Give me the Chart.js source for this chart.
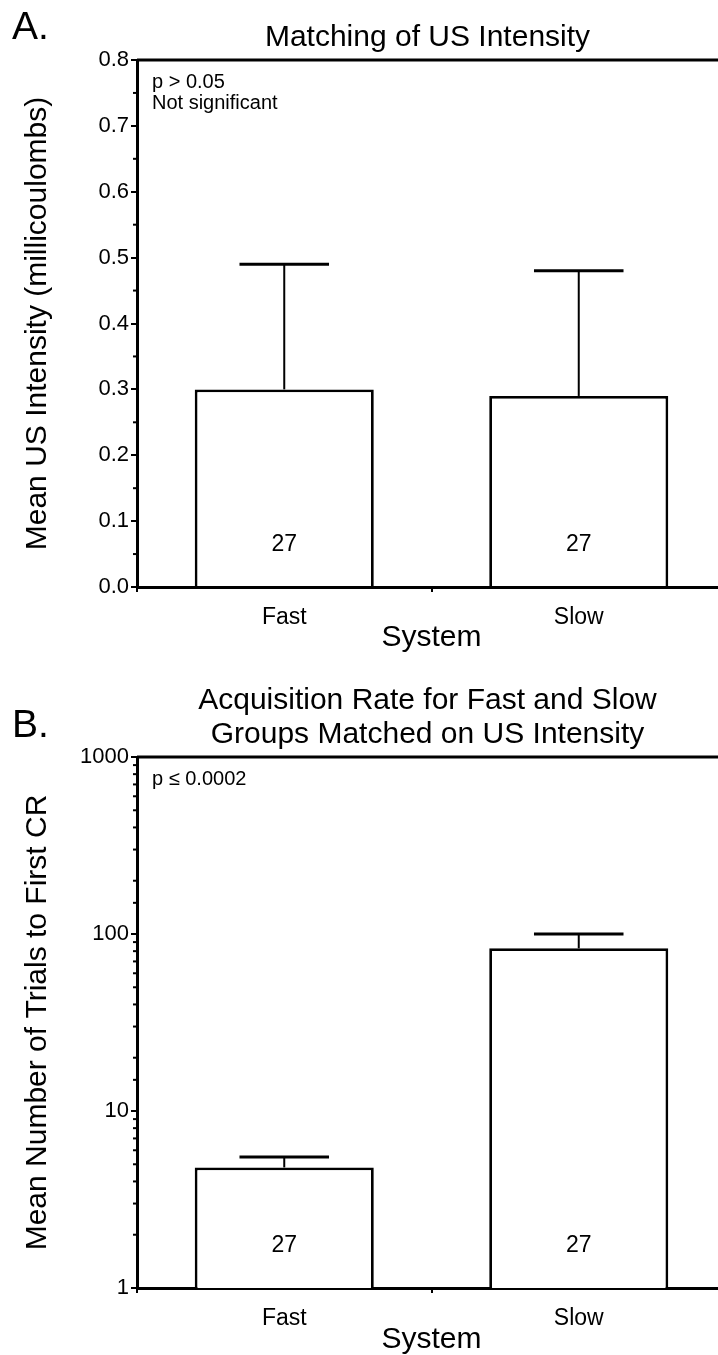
<!DOCTYPE html>
<html>
<head>
<meta charset="utf-8">
<script src="https://cdn.jsdelivr.net/npm/chart.js@4.4.1/dist/chart.umd.min.js"></script>
<style>
  html, body { margin: 0; padding: 0; background: #fff; overflow: hidden; }
  #page { position: relative; width: 718px; height: 1355px; overflow: hidden; background: #fff; }
  .panel { position: absolute; left: 0; }
</style>
</head>
<body>
<div id="page">
  <div class="panel" style="top:0"><canvas id="chartA" width="726" height="665"></canvas></div>
  <div class="panel" style="top:660px"><canvas id="chartB" width="726" height="695"></canvas></div>
</div>
<script>
// values
var groups = ['Fast', 'Slow'];
var groupN = [27, 27];
var usIntensityMean = [0.30, 0.29];
var usIntensityErr = [0.19, 0.19];
var trialsMean = [4.8, 83];
var trialsErr = [0.7, 17];
var intensityTicks = [0, 0.1, 0.2, 0.3, 0.4, 0.5, 0.6, 0.7, 0.8];
var trialsTicks = [1, 10, 100, 1000];

var FONT = "'Liberation Sans', Arial, Helvetica, sans-serif";
Chart.defaults.font.family = FONT;
Chart.defaults.color = '#000';

// error bars, group sizes, minor ticks, frame line and panel texts
var panelDecor = {
    id: 'panelDecor',
    afterDatasetsDraw: function (chart, args, opts) {
        var ctx = chart.ctx, area = chart.chartArea;
        var ys = chart.scales.y;
        var meta = chart.getDatasetMeta(0);
        ctx.save();
        ctx.strokeStyle = '#000';
        ctx.fillStyle = '#000';

        ctx.lineWidth = 3;
        ctx.beginPath();
        ctx.moveTo(area.left, area.top);
        ctx.lineTo(chart.width, area.top);
        ctx.stroke();

        // minor ticks as short stubs on the axis
        ctx.lineWidth = 2;
        ys.ticks.forEach(function (t) {
            if (opts.isMajor(t.value)) return;
            var y = ys.getPixelForValue(t.value);
            ctx.beginPath();
            ctx.moveTo(area.left - 4, y);
            ctx.lineTo(area.left, y);
            ctx.stroke();
        });

        meta.data.forEach(function (bar, i) {
            var yMean = ys.getPixelForValue(opts.means[i]);
            var yTop = ys.getPixelForValue(opts.means[i] + opts.errors[i]);
            var half = bar.width / 4;
            ctx.lineWidth = 2;
            ctx.beginPath();
            ctx.moveTo(bar.x, yMean);
            ctx.lineTo(bar.x, yTop);
            ctx.stroke();
            ctx.lineWidth = 3;
            ctx.beginPath();
            ctx.moveTo(bar.x - half, yTop);
            ctx.lineTo(bar.x + half, yTop);
            ctx.stroke();

            ctx.font = '23px ' + FONT;
            ctx.textAlign = 'center';
            ctx.textBaseline = 'alphabetic';
            ctx.fillText(String(opts.n[i]), bar.x, area.bottom - 36);
        });

        var cx = (area.left + area.right) / 2 - 4;
        ctx.textAlign = 'center';
        ctx.font = '30px ' + FONT;
        opts.title.forEach(function (line, i) {
            ctx.fillText(line, cx, opts.titleY[i]);
        });

        ctx.textAlign = 'left';
        ctx.font = '39px ' + FONT;
        ctx.fillText(opts.letter, 12, opts.letterY);

        ctx.font = '20px ' + FONT;
        opts.note.forEach(function (line, i) {
            ctx.fillText(line, area.left + 15, area.top + 28 + i * 21);
        });
        ctx.restore();
    }
};

function xAxis(height, titlePad) {
    return {
        offset: true,
        afterFit: function (s) { s.height = height; },
        ticks: { padding: 12, font: { size: 23 }, color: '#000' },
        grid: { offset: true, drawOnChartArea: false, tickLength: 5, color: '#000', lineWidth: 2 },
        border: { color: '#000', width: 3 },
        title: { display: true, text: 'System', color: '#000', font: { size: 30, lineHeight: 1 }, padding: { top: 0, bottom: titlePad } }
    };
}

function isIntensityMajor(v) {
    return intensityTicks.indexOf(Math.round(v * 100) / 100) >= 0;
}
function isTrialsMajor(v) {
    return trialsTicks.indexOf(v) >= 0;
}

// A. Matching of US Intensity
new Chart(document.getElementById('chartA').getContext('2d'), {
    type: 'bar',
    data: {
        labels: groups,
        datasets: [{
            data: usIntensityMean,
            backgroundColor: '#fff',
            borderColor: '#000',
            borderWidth: 2.8,
            barPercentage: 0.608,
            categoryPercentage: 1
        }]
    },
    plugins: [panelDecor],
    options: {
        responsive: false,
        animation: false,
        layout: { padding: { top: 60, right: 0, bottom: 0, left: 0 } },
        plugins: {
            legend: { display: false },
            tooltip: { enabled: false },
            panelDecor: {
                means: usIntensityMean, errors: usIntensityErr, n: groupN,
                isMajor: isIntensityMajor,
                title: ['Matching of US Intensity'], titleY: [46],
                letter: 'A.', letterY: 39,
                note: ['p > 0.05', 'Not significant']
            }
        },
        scales: {
            x: xAxis(78, 12),
            y: {
                min: 0,
                max: 0.8,
                afterFit: function (s) { s.width = 137; },
                ticks: {
                    stepSize: 0.05, autoSkip: false, padding: 2, font: { size: 22 }, color: '#000',
                    callback: function (v) {
                        return isIntensityMajor(v) ? (Math.round(v * 10) / 10).toFixed(1) : '';
                    }
                },
                grid: {
                    drawOnChartArea: false, tickLength: 6, lineWidth: 2,
                    tickColor: function (c) {
                        return c.tick && isIntensityMajor(c.tick.value) ? '#000' : 'rgba(0,0,0,0)';
                    }
                },
                border: { color: '#000', width: 3 },
                title: { display: true, text: 'Mean US Intensity (millicoulombs)', color: '#000', font: { size: 30, lineHeight: 1 }, padding: { top: 23, bottom: 0 } }
            }
        }
    }
});

// B. Acquisition rate, log scale
new Chart(document.getElementById('chartB').getContext('2d'), {
    type: 'bar',
    data: {
        labels: groups,
        datasets: [{
            data: trialsMean,
            backgroundColor: '#fff',
            borderColor: '#000',
            borderWidth: 2.8,
            barPercentage: 0.608,
            categoryPercentage: 1
        }]
    },
    plugins: [panelDecor],
    options: {
        responsive: false,
        animation: false,
        layout: { padding: { top: 97, right: 0, bottom: 0, left: 0 } },
        plugins: {
            legend: { display: false },
            tooltip: { enabled: false },
            panelDecor: {
                means: trialsMean, errors: trialsErr, n: groupN,
                isMajor: isTrialsMajor,
                title: ['Acquisition Rate for Fast and Slow', 'Groups Matched on US Intensity'], titleY: [49, 83],
                letter: 'B.', letterY: 77,
                note: ['p \u2264 0.0002']
            }
        },
        scales: {
            x: xAxis(67, 0),
            y: {
                type: 'logarithmic',
                min: 1,
                max: 1000,
                afterFit: function (s) { s.width = 137; },
                ticks: {
                    autoSkip: false, padding: 2, font: { size: 22 }, color: '#000',
                    callback: function (v) {
                        return isTrialsMajor(v) ? String(v) : '';
                    }
                },
                grid: {
                    drawOnChartArea: false, tickLength: 6, lineWidth: 2,
                    tickColor: function (c) {
                        return c.tick && isTrialsMajor(c.tick.value) ? '#000' : 'rgba(0,0,0,0)';
                    }
                },
                border: { color: '#000', width: 3 },
                title: { display: true, text: 'Mean Number of Trials to First CR', color: '#000', font: { size: 30, lineHeight: 1 }, padding: { top: 23, bottom: 0 } }
            }
        }
    }
});
</script>
</body>
</html>
